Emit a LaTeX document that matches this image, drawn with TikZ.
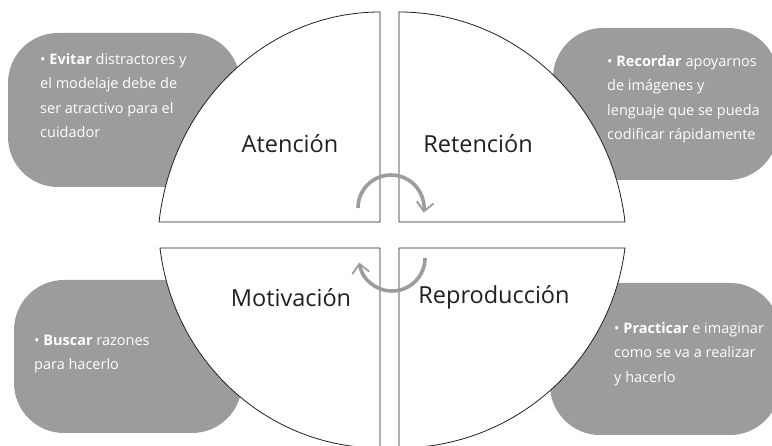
\documentclass[tikz,border=0pt]{standalone}
\usepackage{fontspec}
\setmainfont{Open Sans}
\usetikzlibrary{arrows.meta}
\definecolor{gris}{RGB}{154,156,158}
\definecolor{tinta}{RGB}{35,31,32}

\begin{document}
\begin{tikzpicture}[x=1pt,y=1pt,line join=round,
	caja/.style={fill=gris,rounded corners=50pt},
	cuarto/.style={draw=tinta,fill=white,line width=0.8pt},
	fase/.style={font=\fontsize{23.5}{23.5}\selectfont,text=tinta,anchor=base},
	nota/.style={font=\fontsize{14.5}{24.5}\selectfont,text=white,align=left,anchor=north west,inner sep=0pt},
	giro/.style={draw=gris,line width=3.6pt,-{Straight Barb[length=9pt,width=17pt,line width=1.8pt]}}]
	\useasboundingbox (0,0) rectangle (772,446);
	\clip (0,0) rectangle (772,446);
	\foreach \a/\b/\c/\d in {8/259/240/413,553/266/778/418,14/13/242/166,550/11/780/163}{
		\path[caja] (\a,\b) rectangle (\c,\d);
	}
	\draw[cuarto] (380,224) -- (380,434) arc[start angle=90,end angle=173.24,x radius=222.5,y radius=238] -- cycle;
	\draw[cuarto] (399,224) -- (399,434) arc[start angle=90,end angle=6.76,x radius=227.6,y radius=238] -- cycle;
	\draw[cuarto] (380,198) -- (380,-2) arc[start angle=270,end angle=187.05,x radius=221.7,y radius=228] -- cycle;
	\draw[cuarto] (399,198) -- (399,-2) arc[start angle=270,end angle=352.95,x radius=227.7,y radius=228] -- cycle;
	\node[fase] (atencion) at (290,293) {Atención};
	\node[fase] (retencion) at (478,293) {Retención};
	\node[fase] (motivacion) at (291,139) {Motivación};
	\node[fase] (reproduccion) at (494,142) {Reproducción};
	\node[nota] (evitar) at (40,393) {• \textbf{Evitar} distractores y\\el modelaje debe de\\ser atractivo para el\\cuidador};
	\node[nota] (recordar) at (607,391) {• \textbf{Recordar} apoyarnos\\de imágenes y\\lenguaje que se pueda\\codificar rápidamente};
	\node[nota] (buscar) at (34,111.5) {• \textbf{Buscar} razones\\para hacerlo};
	\node[nota] (practicar) at (614,124) {• \textbf{Practicar} e imaginar\\como se va a realizar\\y hacerlo};
	\draw[giro] (391,238) ++(180:33) arc[start angle=180,end angle=-8,radius=33];
	\draw[giro] (392,188) ++(0:33) arc[start angle=0,end angle=-172,radius=33];
\end{tikzpicture}
\end{document}
